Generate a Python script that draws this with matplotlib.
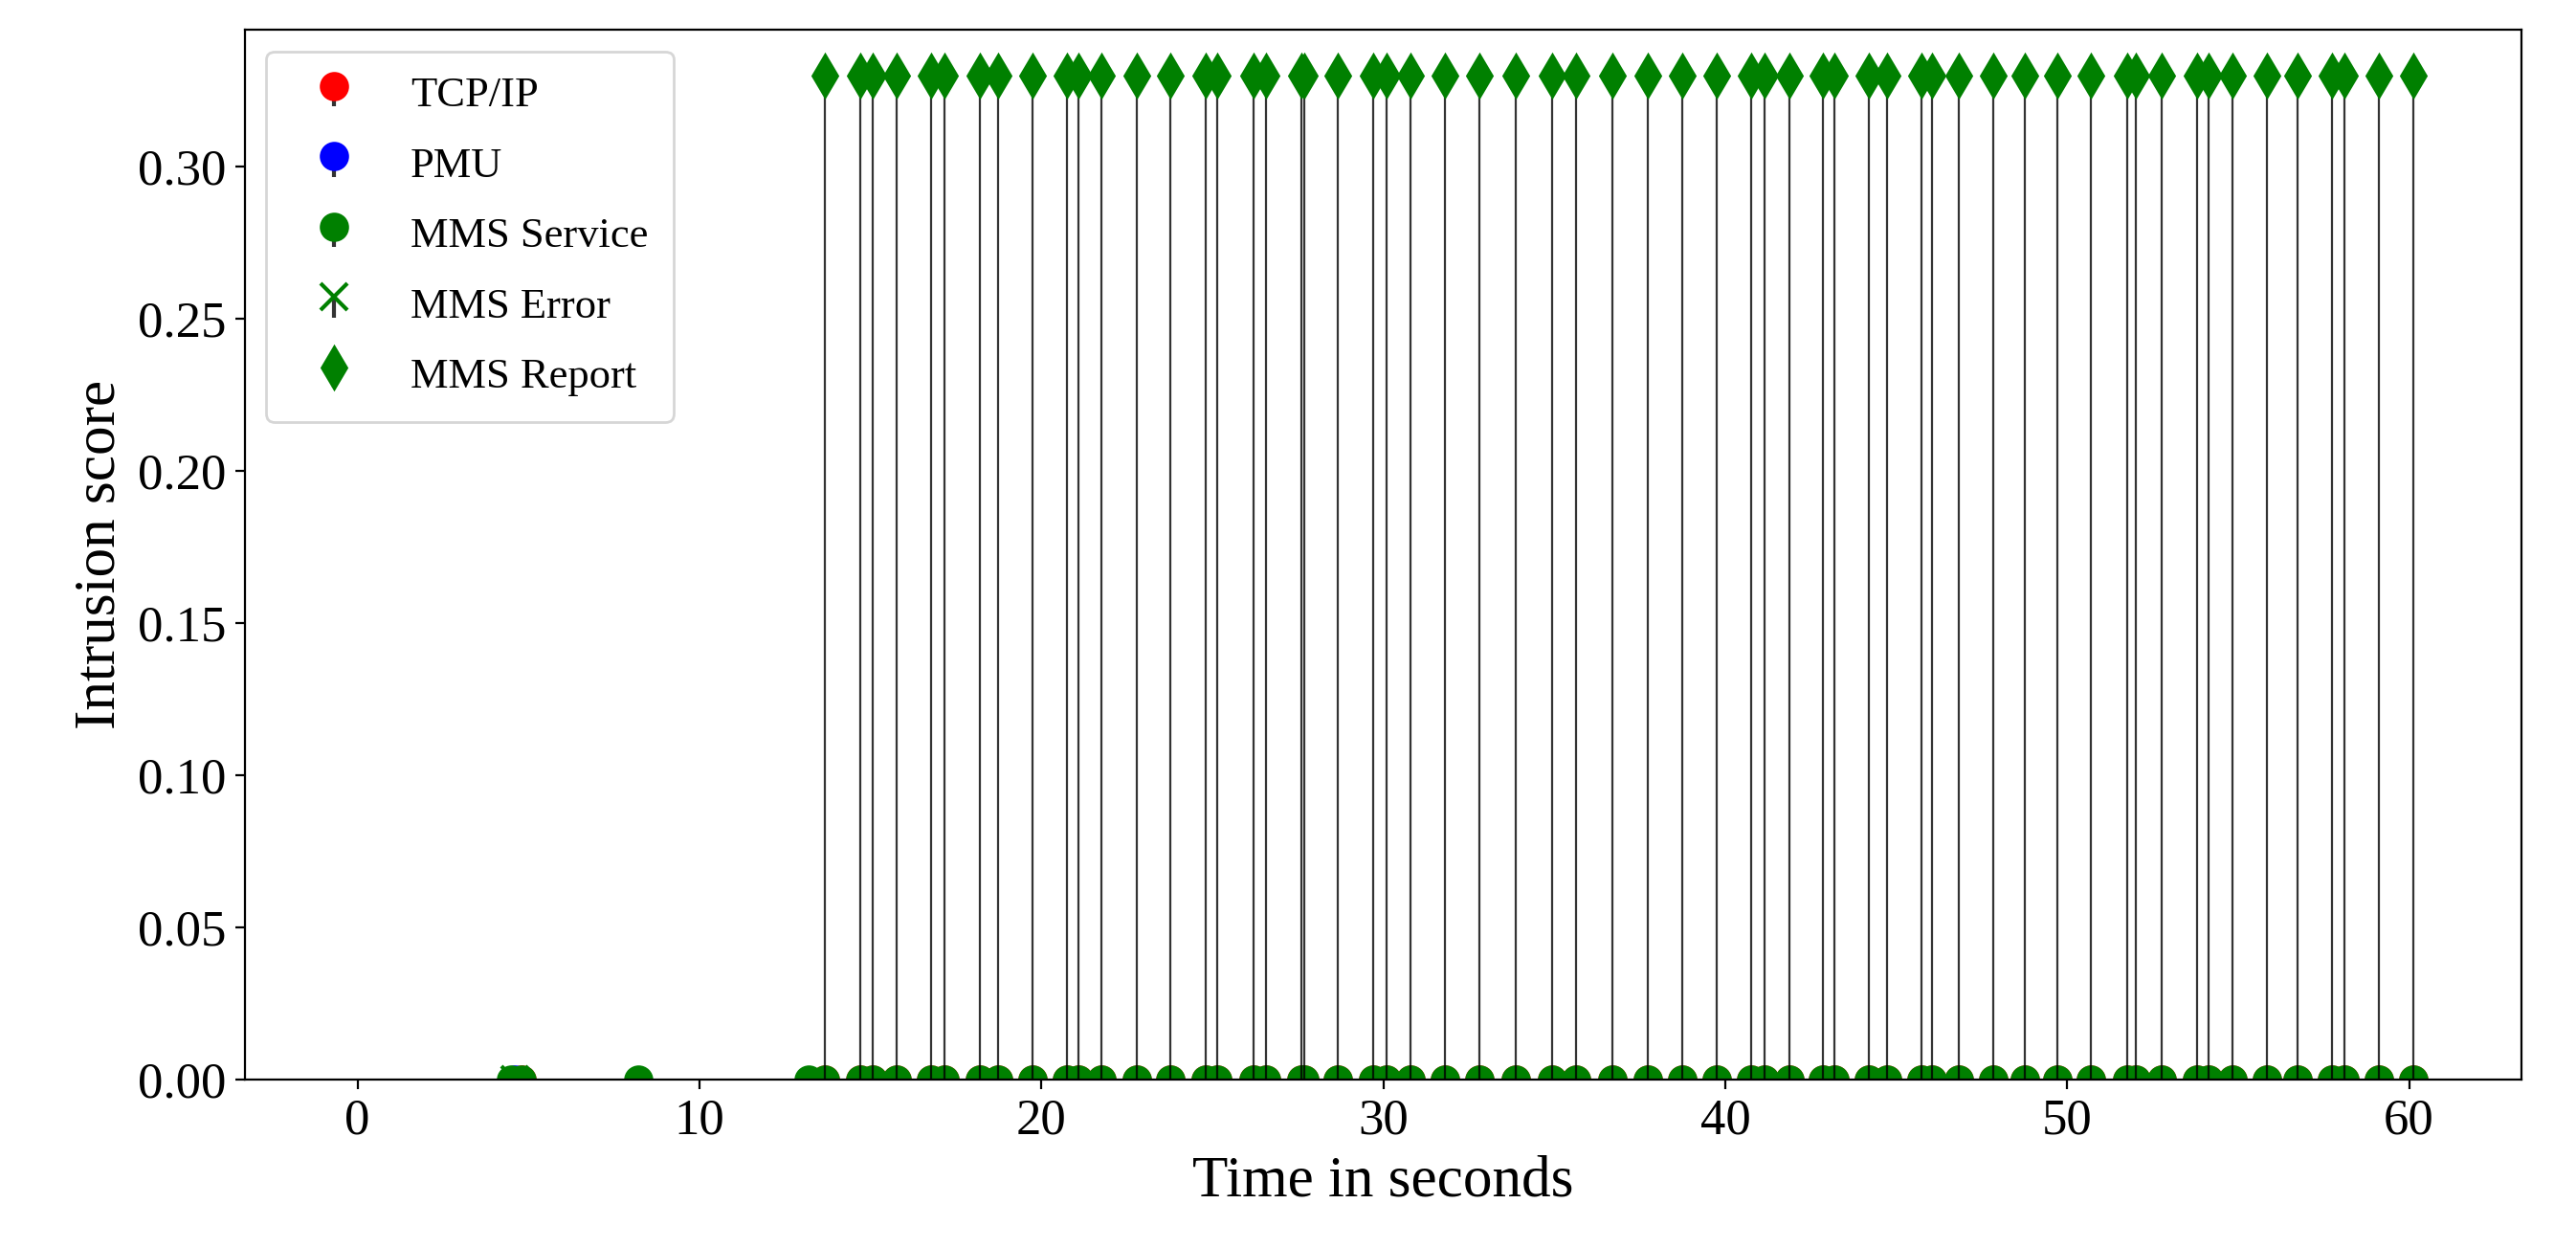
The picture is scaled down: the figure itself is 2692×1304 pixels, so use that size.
import numpy as np
import matplotlib.pyplot as plt

# times (s) of MMS Report alerts, score 0.33
report_t = [13.67, 14.69, 15.07, 15.78, 16.78, 17.17, 18.19, 18.72, 19.74, 20.75, 21.07,
            21.75, 22.78, 23.78, 24.80, 25.15, 26.21, 26.56, 27.6, 27.7, 28.68, 29.70,
            30.09, 30.79, 31.81, 32.82, 33.88, 34.93, 35.64, 36.71, 37.73, 38.75, 39.75,
            40.76, 41.16, 41.87, 42.87, 43.19, 44.19, 44.72, 45.74, 46.04, 46.83, 47.85,
            48.77, 49.70, 50.70, 51.76, 52.02, 52.76, 53.79, 54.14, 54.84, 55.85, 56.73,
            57.75, 58.10, 59.12, 60.12]
report_score = [0.33] * len(report_t)
# other detectors fire with zero score
zero_t = [4.5, 4.8, 8.2, 13.2] + report_t
tcp_t = [4.8] + report_t
pmu_t = [4.6]
err_t = [4.6]
zero_score = [0.0] * len(zero_t)
tcp_score = [0.0] * len(tcp_t)
pmu_score = [0.0]
err_score = [0.0]

plt.rcParams['font.family'] = ['Liberation Serif', 'DejaVu Serif']
fig, ax = plt.subplots(figsize=(13.46, 6.52), dpi=200)
fig.subplots_adjust(left=0.095, right=0.979, top=0.976, bottom=0.135)

def stem(t, v, fmt, label, ms=10, mew=1):
    c = ax.stem(t, v, linefmt='k-', markerfmt=fmt, basefmt=' ', label=label)
    c.stemlines.set_linewidth(0.8)
    c.stemlines.set_alpha(0.8)
    c.markerline.set_markersize(ms)
    c.markerline.set_markeredgewidth(mew)
    return c

stem(tcp_t, tcp_score, 'ro', 'TCP/IP')
stem(pmu_t, pmu_score, 'bo', 'PMU')
stem(zero_t, zero_score, 'go', 'MMS Service')
stem(err_t, err_score, 'gx', 'MMS Error', mew=1.5)
stem(report_t, report_score, 'gd', 'MMS Report', ms=11)

ax.set_xlim(-3.3, 63.3)
ax.set_ylim(0, 0.345)
ax.set_xticks(np.arange(0, 61, 10))
ax.set_yticks(np.arange(0, 0.31, 0.05))
ax.yaxis.set_major_formatter(plt.FormatStrFormatter('%.2f'))
ax.tick_params(labelsize=19)
ax.set_xlabel('Time in seconds', fontsize=22)
ax.set_ylabel('Intrusion score', fontsize=22)
ax.legend(loc='upper left', fontsize=16, borderpad=0.6, labelspacing=0.75)

fig.savefig('out.png', dpi=200)
